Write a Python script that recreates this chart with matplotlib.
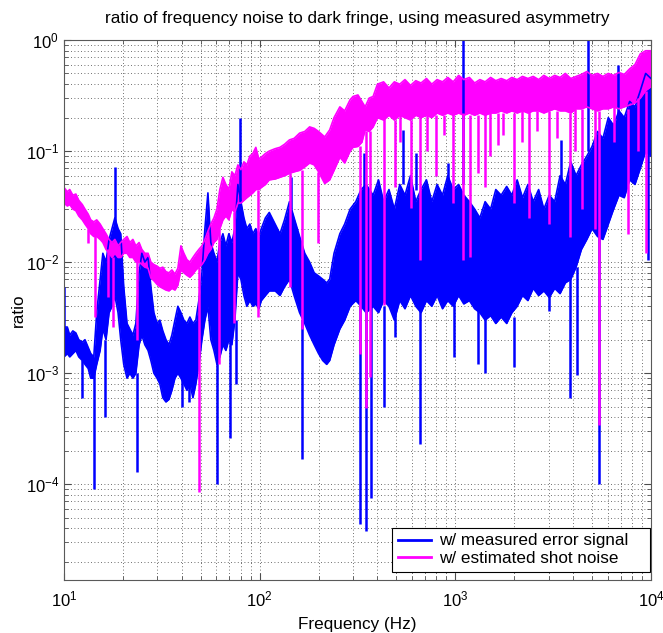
import numpy as np
import matplotlib
matplotlib.use('Agg')
import matplotlib.pyplot as plt

plt.rcParams['font.family'] = ['Liberation Sans', 'DejaVu Sans']
plt.rcParams['mathtext.default'] = 'regular'

# Banda de la senal de error medida (limite superior e inferior), 10-350 Hz
err_freq_a = [10.0, 10.4, 10.7, 11.1, 11.5, 11.9, 12.4, 12.8, 13.3, 13.7, 14.2, 14.7, 15.3, 15.8,
              16.4, 17.0, 17.6, 18.2, 18.9, 19.5, 20.2, 21.0, 21.7, 22.5, 23.3, 24.2, 25.0, 25.9,
              26.9, 27.8, 28.8, 29.9, 30.9, 32.0, 33.2, 34.4, 35.6, 36.9, 38.2, 39.6, 41.0, 42.5,
              44.0, 45.6, 47.2, 48.9, 50.7, 52.5, 54.4, 56.3, 58.4, 60.5, 62.6, 64.9, 67.2, 69.6,
              72.1, 74.7, 77.4, 80.2, 83.1, 86.0, 89.1, 92.3, 95.6, 99.0, 102, 107, 112, 120,
              127, 134, 142, 150, 160, 170, 180, 190, 200, 210, 220, 228, 240, 257, 272, 290,
              310, 330, 350]
err_hi_a = [0.0026, 0.0026, 0.0022, 0.0024, 0.0023, 0.0020, 0.0019, 0.0020, 0.0017, 0.0015, 0.0014,
            0.0035, 0.0070, 0.012, 0.010, 0.016, 0.020, 0.025, 0.020, 0.018, 0.006, 0.0028, 0.0025,
            0.0022, 0.0028, 0.008, 0.012, 0.010, 0.011, 0.006, 0.0035, 0.0028, 0.0030, 0.0024,
            0.0020, 0.0018, 0.0022, 0.0030, 0.0040, 0.0035, 0.0030, 0.0028, 0.0032, 0.0028, 0.0030,
            0.0045, 0.008, 0.020, 0.042, 0.015, 0.012, 0.010, 0.015, 0.018, 0.014, 0.018, 0.015,
            0.020, 0.050, 0.035, 0.025, 0.020, 0.022, 0.018, 0.020, 0.017, 0.020, 0.025, 0.028,
            0.022, 0.018, 0.024, 0.035, 0.025, 0.017, 0.012, 0.010, 0.008, 0.0075, 0.0070, 0.0065,
            0.0070, 0.012, 0.018, 0.022, 0.030, 0.035, 0.045, 0.050]
err_lo_a = [0.0014, 0.0015, 0.0014, 0.0015, 0.0016, 0.0014, 0.0013, 0.0012, 0.0011, 0.0009, 0.0009,
            0.0012, 0.0016, 0.0025, 0.0020, 0.0035, 0.0040, 0.0050, 0.0035, 0.0020, 0.0012, 0.0009,
            0.0010, 0.0009, 0.0010, 0.0018, 0.0022, 0.0018, 0.0016, 0.0013, 0.0010, 0.0009, 0.0008,
            0.0006, 0.00055, 0.00058, 0.0007, 0.0009, 0.0010, 0.0009, 0.0008, 0.0007, 0.0008, 0.0006,
            0.0008, 0.0012, 0.0020, 0.0030, 0.0040, 0.0020, 0.0016, 0.0012, 0.0014, 0.0018, 0.0016,
            0.0020, 0.0018, 0.0030, 0.0080, 0.0070, 0.0050, 0.0040, 0.0045, 0.0040, 0.0042, 0.0038,
            0.0045, 0.0050, 0.0055, 0.0055, 0.0050, 0.0060, 0.0070, 0.0050, 0.0035, 0.0028, 0.0022,
            0.0018, 0.0015, 0.0013, 0.0012, 0.0013, 0.0018, 0.0025, 0.0030, 0.0040, 0.0045, 0.0040,
            0.0035]

# 380 Hz - 10 kHz
err_freq_b = [380, 405, 430, 458, 488, 520, 553, 590, 628, 668, 712, 758, 807, 860, 915, 975,
              1040, 1105, 1180, 1255, 1335, 1420, 1515, 1610, 1715, 1830, 1945, 2070, 2205, 2350,
              2500, 2665, 2835, 3020, 3220, 3430, 3650, 3890, 4140, 4410, 4700, 5000, 5330, 5680,
              6050, 6440, 6860, 7300, 7780, 8280, 8820, 9390, 10000]
err_hi_b = [0.040, 0.055, 0.035, 0.045, 0.030, 0.050, 0.040, 0.060, 0.035, 0.045, 0.055, 0.035,
            0.050, 0.040, 0.060, 0.045, 0.050, 0.040, 0.035, 0.030, 0.025, 0.035, 0.030, 0.045,
            0.040, 0.048, 0.040, 0.055, 0.038, 0.050, 0.035, 0.045, 0.030, 0.040, 0.035, 0.060,
            0.050, 0.080, 0.060, 0.075, 0.090, 0.110, 0.150, 0.130, 0.200, 0.170, 0.230, 0.200,
            0.280, 0.250, 0.350, 0.500, 0.450]
err_lo_b = [0.0040, 0.0035, 0.0045, 0.0040, 0.0030, 0.0045, 0.0038, 0.0050, 0.0040, 0.0035, 0.0045,
            0.0040, 0.0050, 0.0038, 0.0045, 0.0040, 0.0050, 0.0042, 0.0045, 0.0038, 0.0035, 0.0030,
            0.0033, 0.0028, 0.0032, 0.0028, 0.0035, 0.0040, 0.0050, 0.0045, 0.0058, 0.0050, 0.0055,
            0.0048, 0.0058, 0.0052, 0.0065, 0.0070, 0.0090, 0.0130, 0.0160, 0.0200, 0.0170, 0.0160,
            0.0220, 0.0300, 0.0400, 0.0380, 0.0550, 0.0500, 0.0700, 0.1000, 0.0900]

# Picos y caidas aisladas de la senal de error: frecuencia, desde, hasta
err_exc_freq = [10.05, 12.3, 14.3, 16.2, 18.2, 23.5, 40.0, 43.5, 60.8, 70.5, 76.0, 79.0, 145, 164,
                325, 340, 350, 370, 433, 490, 540, 630, 660, 915, 990, 1094, 1300, 1410, 1990,
                3000, 3450, 3870, 4200, 4760, 5450, 6800, 9700]
err_exc_from = [0.0016, 0.0013, 0.0012, 0.002, 0.02, 0.001, 0.0009, 0.0008, 0.0015, 0.002, 0.003,
                0.03, 0.03, 0.003, 0.004, 0.04, 0.004, 0.004, 0.004, 0.004, 0.05, 0.045, 0.004,
                0.05, 0.0045, 0.05, 0.004, 0.004, 0.0032, 0.0055, 0.05, 0.007, 0.009, 0.1, 0.018,
                0.2, 0.1]
err_exc_to = [0.006, 0.0006, 0.00009, 0.0004, 0.072, 0.00013, 0.0005, 0.00055, 0.0001, 0.00026,
              0.0008, 0.20, 0.058, 0.00017, 0.000044, 0.096, 0.000038, 0.000075, 0.0005, 0.0021,
              0.155, 0.096, 0.00023, 0.078, 0.0014, 1.0, 0.0012, 0.0010, 0.00113, 0.0036, 0.126,
              0.0006, 0.00097, 1.0, 0.0001, 0.6, 0.0104]

# Banda del ruido de disparo estimado, 10-380 Hz
shot_freq_a = [10.0, 10.4, 10.7, 11.1, 11.5, 11.9, 12.4, 12.8, 13.3, 13.7, 14.2, 14.7, 15.3, 15.8,
               16.4, 17.0, 17.6, 18.2, 18.9, 19.5, 20.2, 21.0, 21.7, 22.5, 23.3, 24.2, 25.0, 25.9,
               26.9, 27.8, 28.8, 29.9, 30.9, 32.0, 33.2, 34.4, 35.6, 36.9, 38.2, 39.6, 41.0, 42.5,
               44.0, 45.6, 47.2, 48.9, 50.7, 52.5, 54.4, 56.3, 58.4, 60.5, 62.6, 64.9, 67.2, 69.6,
               72.1, 74.7, 77.4, 80.2, 83.1, 86.0, 89.1, 92.3, 95.6, 99.0, 102, 107, 112, 120,
               127, 134, 142, 150, 160, 170, 180, 190, 200, 215, 228, 240, 257, 272, 290, 300,
               318, 333, 346, 363, 380]
shot_hi_a = [0.047, 0.043, 0.045, 0.040, 0.041, 0.036, 0.033, 0.030, 0.027, 0.024, 0.023, 0.024,
             0.022, 0.020, 0.018, 0.016, 0.015, 0.016, 0.014, 0.015, 0.016, 0.017, 0.015, 0.016,
             0.014, 0.015, 0.013, 0.012, 0.012, 0.010, 0.0095, 0.0092, 0.0088, 0.0090, 0.0082,
             0.0080, 0.0085, 0.0078, 0.0088, 0.014, 0.012, 0.0105, 0.010, 0.011, 0.012, 0.013,
             0.014, 0.016, 0.019, 0.022, 0.025, 0.030, 0.045, 0.058, 0.050, 0.045, 0.065, 0.060,
             0.075, 0.068, 0.080, 0.075, 0.090, 0.095, 0.108, 0.085, 0.088, 0.095, 0.100, 0.105,
             0.108, 0.115, 0.126, 0.130, 0.145, 0.150, 0.165, 0.160, 0.150, 0.134, 0.155, 0.200,
             0.250, 0.230, 0.290, 0.310, 0.320, 0.280, 0.250, 0.300, 0.310]
shot_lo_a = [0.034, 0.032, 0.033, 0.030, 0.029, 0.026, 0.024, 0.022, 0.020, 0.018, 0.017, 0.017,
             0.016, 0.015, 0.013, 0.012, 0.011, 0.012, 0.011, 0.011, 0.012, 0.012, 0.011, 0.011,
             0.010, 0.010, 0.0095, 0.0090, 0.0088, 0.0072, 0.0068, 0.0063, 0.0060, 0.0058, 0.0056,
             0.0055, 0.0058, 0.0056, 0.0062, 0.0085, 0.0080, 0.0076, 0.0073, 0.0078, 0.0085, 0.0090,
             0.0095, 0.0105, 0.012, 0.013, 0.015, 0.016, 0.020, 0.024, 0.026, 0.024, 0.030, 0.028,
             0.034, 0.034, 0.036, 0.038, 0.040, 0.042, 0.045, 0.045, 0.047, 0.050, 0.055, 0.056,
             0.058, 0.060, 0.063, 0.065, 0.067, 0.072, 0.078, 0.075, 0.065, 0.051, 0.055, 0.067,
             0.088, 0.078, 0.100, 0.108, 0.110, 0.120, 0.155, 0.150, 0.165]

# 400 Hz - 10 kHz
shot_freq_b = [400, 430, 458, 488, 520, 553, 590, 628, 668, 712, 758, 807, 860, 915, 975, 1040,
               1105, 1180, 1255, 1335, 1420, 1515, 1610, 1715, 1830, 1945, 2070, 2205, 2350, 2500,
               2665, 2835, 3020, 3220, 3430, 3650, 3890, 4140, 4410, 4700, 5000, 5330, 5680, 6050,
               6440, 6860, 7300, 7780, 8280, 8820, 9390, 10000]
shot_hi_b = [0.40, 0.42, 0.37, 0.42, 0.40, 0.44, 0.39, 0.43, 0.41, 0.45, 0.40, 0.44, 0.42, 0.46,
             0.42, 0.48, 0.44, 0.46, 0.41, 0.44, 0.42, 0.46, 0.43, 0.45, 0.43, 0.46, 0.44, 0.47,
             0.45, 0.47, 0.44, 0.48, 0.45, 0.48, 0.46, 0.50, 0.45, 0.47, 0.49, 0.52, 0.48, 0.50,
             0.47, 0.50, 0.48, 0.51, 0.49, 0.55, 0.60, 0.75, 0.80, 0.80]
shot_lo_b = [0.20, 0.19, 0.21, 0.19, 0.21, 0.20, 0.19, 0.21, 0.20, 0.21, 0.20, 0.22, 0.21, 0.22,
             0.21, 0.22, 0.21, 0.22, 0.21, 0.22, 0.21, 0.22, 0.22, 0.23, 0.22, 0.23, 0.22, 0.23,
             0.22, 0.23, 0.23, 0.22, 0.23, 0.24, 0.23, 0.23, 0.22, 0.24, 0.24, 0.25, 0.24, 0.23,
             0.24, 0.24, 0.25, 0.24, 0.25, 0.26, 0.27, 0.30, 0.35, 0.38]

# Caidas aisladas del ruido de disparo
shot_exc_freq = [13.3, 14.4, 16.8, 17.8, 23.5, 49.0, 62.0, 74.0, 98.5, 143, 164, 198, 325, 350,
                 368, 433, 494, 520, 593, 659, 720, 800, 880, 970, 1094, 1190, 1300, 1420, 1500,
                 1660, 1750, 1990, 2200, 2370, 2600, 3000, 3300, 3870, 4100, 4450, 5150, 5450,
                 6500, 7600, 8600, 9400]
shot_exc_from = [0.020, 0.017, 0.013, 0.011, 0.010, 0.009, 0.020, 0.028, 0.045, 0.063, 0.067,
                 0.065, 0.11, 0.15, 0.15, 0.20, 0.19, 0.21, 0.19, 0.21, 0.21, 0.21, 0.21, 0.22,
                 0.22, 0.21, 0.21, 0.22, 0.22, 0.22, 0.22, 0.22, 0.23, 0.23, 0.23, 0.23, 0.23,
                 0.22, 0.24, 0.24, 0.24, 0.23, 0.25, 0.24, 0.30, 0.35]
shot_exc_to = [0.0148, 0.0032, 0.0048, 0.0026, 0.0020, 0.000085, 0.0012, 0.0028, 0.0032, 0.006,
               0.0025, 0.0148, 0.0015, 0.00049, 0.00092, 0.0041, 0.047, 0.12, 0.031, 0.0104,
               0.10, 0.06, 0.14, 0.034, 0.0104, 0.011, 0.063, 0.047, 0.09, 0.113, 0.14, 0.034,
               0.12, 0.025, 0.15, 0.022, 0.13, 0.0167, 0.10, 0.030, 0.020, 0.00034, 0.12, 0.018,
               0.10, 0.012]

err_freq = err_freq_a + err_freq_b
err_hi = err_hi_a + err_hi_b
err_lo = err_lo_a + err_lo_b
shot_freq = shot_freq_a + shot_freq_b
shot_hi = shot_hi_a + shot_hi_b
shot_lo = shot_lo_a + shot_lo_b

azul = (0, 0, 1)
magenta = (1, 0, 1)

fig = plt.figure(figsize=(6.63, 6.33), dpi=100)
ax = fig.add_axes([0.0965, 0.0837, 0.8854, 0.8531])
ax.set_xscale('log')
ax.set_yscale('log')

# Senal de error
ax.fill_between(err_freq, err_lo, err_hi, color=azul, linewidth=0)
ax.plot(err_freq, err_hi, color=azul, lw=1.2, label='w/ measured error signal')
ax.plot(err_freq, err_lo, color=azul, lw=1.2)
ax.vlines(err_exc_freq, err_exc_from, err_exc_to, color=azul, lw=1.8)

# Ruido de disparo, encima
ax.fill_between(shot_freq, shot_lo, shot_hi, color=magenta, linewidth=0)
ax.plot(shot_freq, shot_hi, color=magenta, lw=1.2, label='w/ estimated shot noise')
ax.plot(shot_freq, shot_lo, color=magenta, lw=1.2)
ax.vlines(shot_exc_freq, shot_exc_from, shot_exc_to, color=magenta, lw=1.8)

ax.set_xlim(10, 1e4)
ax.set_ylim(1.37e-5, 1)

ax.grid(True, which='both', color='0.25', linestyle=(0, (1, 3)), linewidth=0.6)
ax.set_axisbelow(True)
ax.tick_params(which='both', direction='in', top=True, right=True, labelsize=12,
               color='0.3')
ax.tick_params(which='major', length=5)
ax.tick_params(which='minor', length=3)
ax.tick_params(axis='x', pad=7)
for s in ax.spines.values():
    s.set_color('0.35')

ax.set_title('ratio of frequency noise to dark fringe, using measured asymmetry',
             fontsize=12.3, pad=12)
ax.set_xlabel('Frequency (Hz)', fontsize=12.3, labelpad=5)
ax.set_ylabel('ratio', fontsize=12.3, labelpad=0)

# Leyenda en caja fija abajo a la derecha
leg = ax.legend(loc='lower left', bbox_to_anchor=(0.559, 0.0148, 0.439, 0.083), mode='expand',
                borderaxespad=0, fontsize=12.3, fancybox=False, framealpha=1, edgecolor='k',
                handlelength=1.9, handletextpad=0.5, borderpad=0.35, labelspacing=0.15)
leg.get_frame().set_linewidth(0.8)
for h in leg.get_lines():
    h.set_linewidth(2)

fig.savefig('out.png', dpi=100)
